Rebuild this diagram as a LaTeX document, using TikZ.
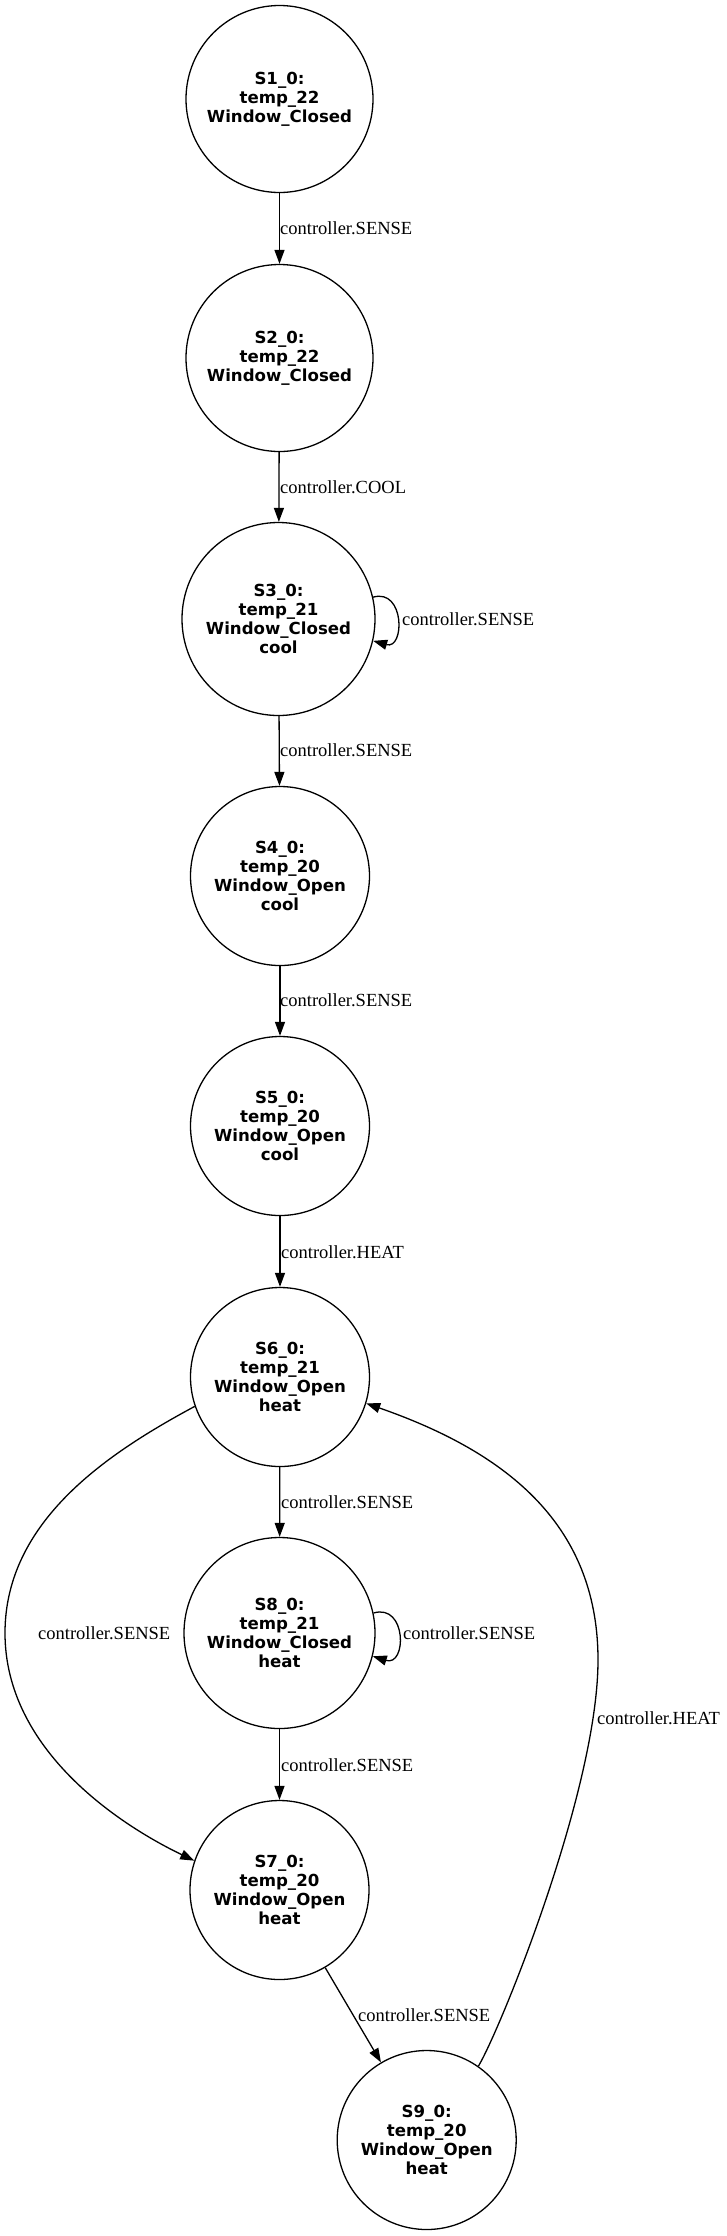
\documentclass[tikz,border=0pt]{standalone}
\usepackage{fontspec}
\setmainfont{Liberation Serif}
\newfontfamily\nodefont{DejaVu Sans}
\usetikzlibrary{arrows.meta}
\begin{document}
\begin{tikzpicture}[x=1pt,y=-1pt,
  state/.style={circle, draw, line width=1.3pt, inner sep=0pt, align=center,
    font=\nodefont\bfseries\fontsize{16.6}{19}\selectfont},
  edge/.style={-{Triangle[length=14pt,width=10pt]}, line width=1.3pt},
  lab/.style={anchor=west, inner sep=0pt, font=\fontsize{18.5}{20}\selectfont}]
\useasboundingbox (0,0) rectangle (727,2236);
\node[state, minimum size=187pt] (S1) at (279.5,99) {S1\_0:\\temp\_22\\Window\_Closed};
\node[state, minimum size=187pt] (S2) at (279.5,358) {S2\_0:\\temp\_22\\Window\_Closed};
\node[state, minimum size=193pt] (S3) at (278.5,619) {S3\_0:\\temp\_21\\Window\_Closed\\cool};
\node[state, minimum size=179pt] (S4) at (280,876) {S4\_0:\\temp\_20\\Window\_Open\\cool};
\node[state, minimum size=179pt] (S5) at (280,1126) {S5\_0:\\temp\_20\\Window\_Open\\cool};
\node[state, minimum size=179pt] (S6) at (280,1377) {S6\_0:\\temp\_21\\Window\_Open\\heat};
\node[state, minimum size=191pt] (S8) at (279.5,1633) {S8\_0:\\temp\_21\\Window\_Closed\\heat};
\node[state, minimum size=179pt] (S7) at (279.5,1890) {S7\_0:\\temp\_20\\Window\_Open\\heat};
\node[state, minimum size=179pt] (S9) at (426.7,2140) {S9\_0:\\temp\_20\\Window\_Open\\heat};

\draw[edge] (S1) -- (S2);
\draw[edge] (S2) -- (S3);
\draw[edge] (S3.13) .. controls (405,588) and (405,650) .. (S3.-13);
\draw[edge] (S3) -- (S4);
\draw[edge] (S4) -- (S5);
\draw[edge] (S5) -- (S6);
\draw[edge] (S6) -- (S8);
\draw[edge] (S8.12) .. controls (407,1603) and (407,1667) .. (S8.-14);
\draw[edge] (S8) -- (S7);
\draw[edge] (S6.199) .. controls (110,1452) and (5,1520) .. (5,1633)
  .. controls (5,1750) and (120,1825) .. (S7.161);
\draw[edge] (S7) -- (S9);
\draw[edge] (S9.55) .. controls (500,2030) and (598,1790) .. (598,1660)
  .. controls (598,1520) and (500,1450) .. (S6.-17);

\node[lab] (L1) at (280,228) {controller.SENSE};
\node[lab] (L2) at (280,487) {controller.COOL};
\node[lab] (L3) at (402,619) {controller.SENSE};
\node[lab] (L4) at (280,750) {controller.SENSE};
\node[lab] (L5) at (280,1000) {controller.SENSE};
\node[lab] (L6) at (281,1252) {controller.HEAT};
\node[lab] (L7) at (281,1502) {controller.SENSE};
\node[lab] (L8) at (403,1633) {controller.SENSE};
\node[lab] (L9) at (281,1765) {controller.SENSE};
\node[lab] (L10) at (38,1633) {controller.SENSE};
\node[lab] (L11) at (358,2015) {controller.SENSE};
\node[lab] (L12) at (597,1718) {controller.HEAT};
\end{tikzpicture}
\end{document}
